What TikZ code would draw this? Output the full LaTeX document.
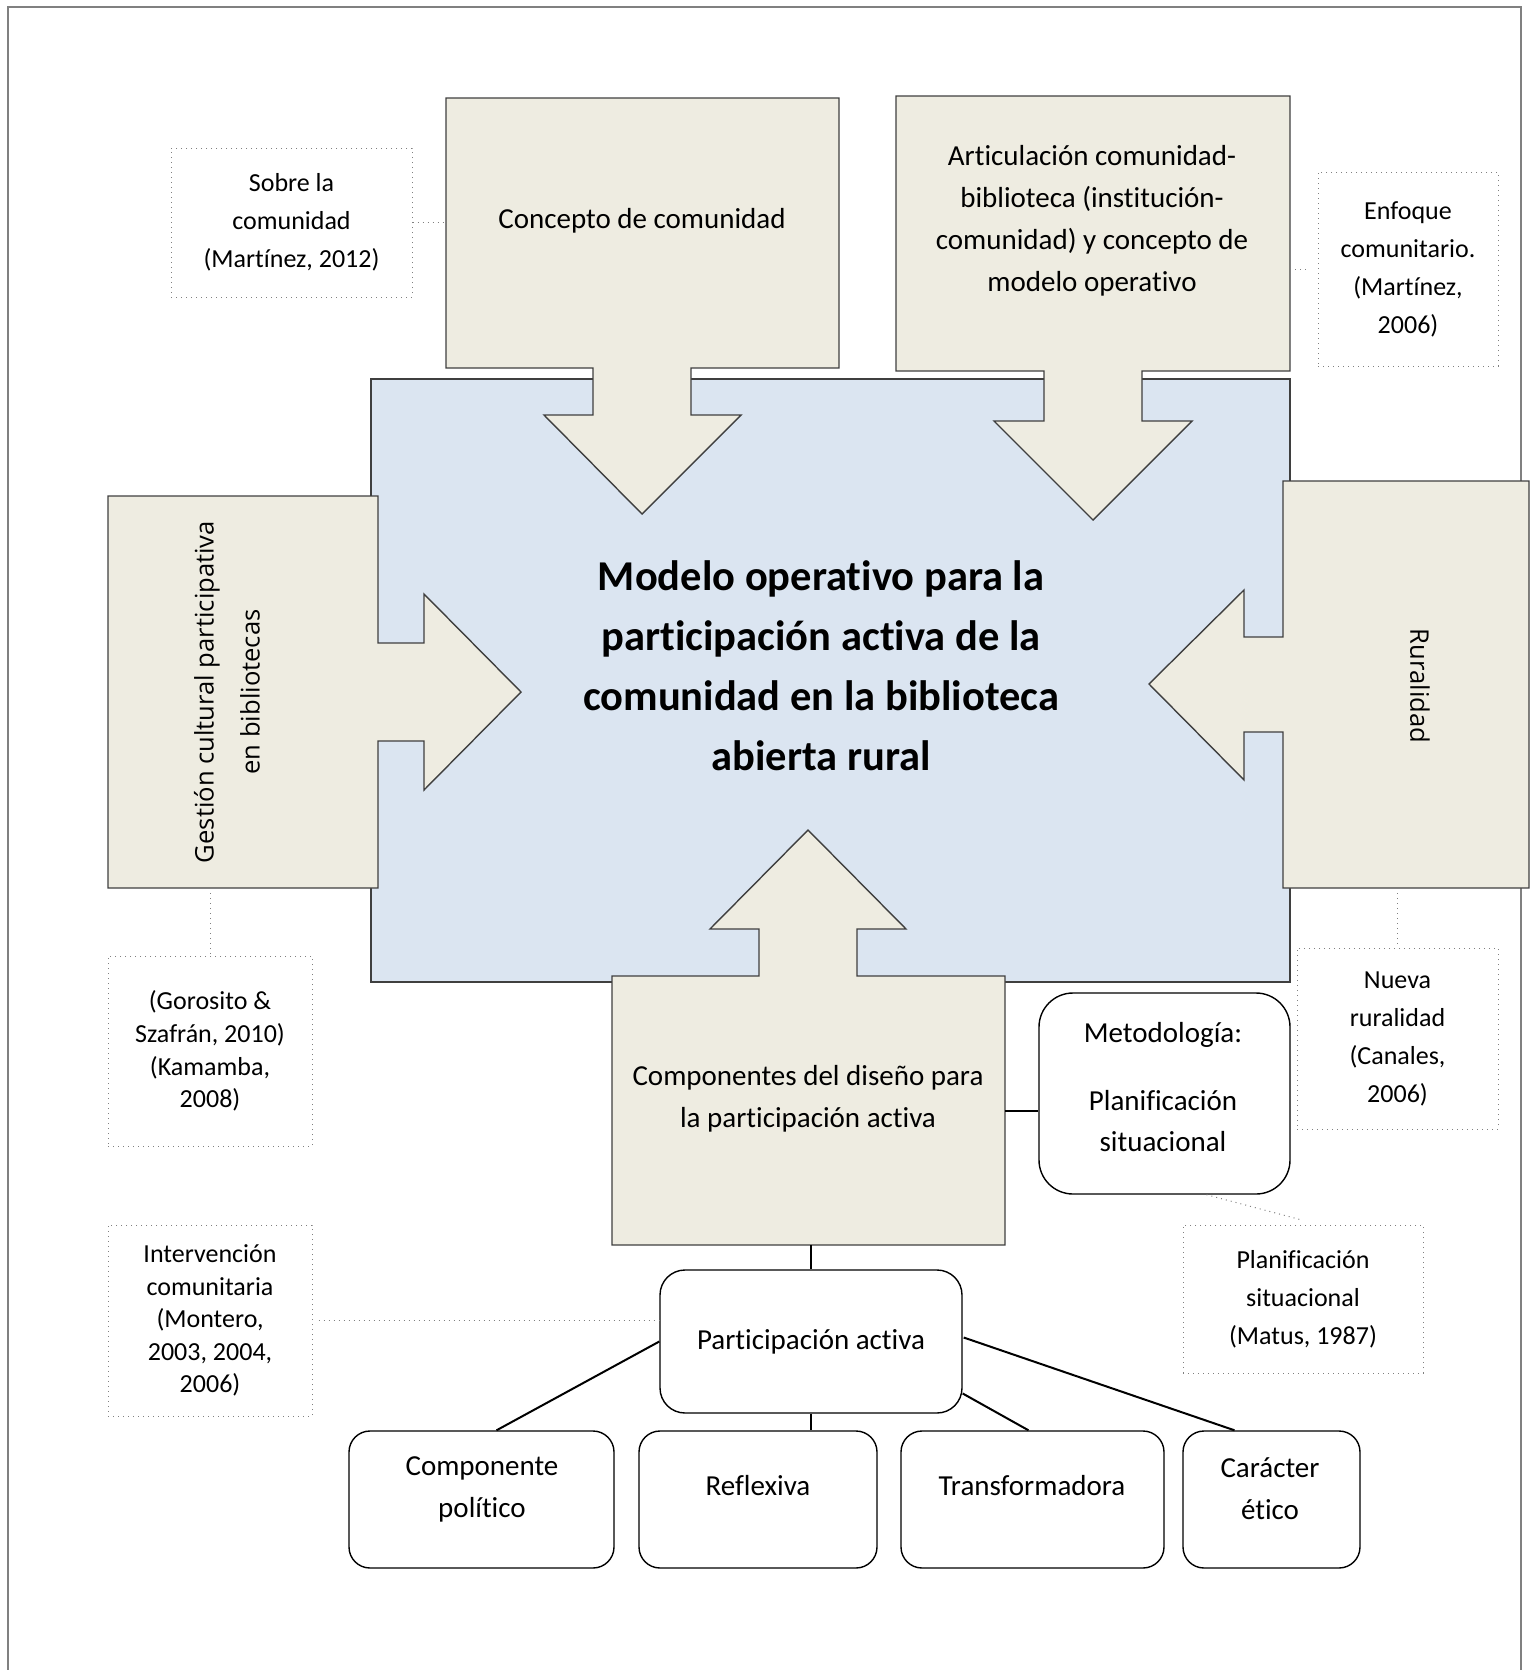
\documentclass[tikz,border=0pt]{standalone}
\usepackage{fontspec}
\setmainfont{Carlito}[RawFeature={-liga;-clig;-dlig;-calt}]
\newfontfamily\rotfont{Open Sans}
\usetikzlibrary{fit,calc}
\definecolor{beige}{HTML}{EEECE1}
\definecolor{paleblue}{HTML}{DBE5F1}
\definecolor{edge}{HTML}{3F3F3F}

\begin{document}
\begin{tikzpicture}[x=0.5pt,y=-0.5pt,
  frame/.style={draw=black!50, line width=0.9pt},
  core/.style={fill=paleblue, draw=edge, line width=0.7pt, inner sep=0pt},
  callout/.style={fill=beige, draw=edge, line width=0.7pt, line join=miter},
  area/.style={inner sep=0pt},
  size/.style 2 args={minimum width=#1pt, minimum height=#2pt},
  refbox/.style={draw=black!50, dotted, line width=0.5pt, fill=white, inner sep=0pt,
    align=center, font=\fontsize{13}{19}\selectfont},
  reftight/.style={refbox, font=\fontsize{13}{16.3}\selectfont},
  pill/.style={draw=black, line width=0.7pt, fill=white, rounded corners=10.5pt, inner sep=0pt},
  maintext/.style={align=center, font=\fontsize{14.5}{21}\selectfont},
  rottext/.style={align=center, font=\rotfont\fontsize{12.8}{23}\selectfont},
  title/.style={align=center, font=\bfseries\fontsize{21.25}{30}\selectfont},
  link/.style={draw=black, line width=1pt},
  reflink/.style={draw=black!50, dotted, line width=0.5pt},
]
\useasboundingbox (0,0) rectangle (1531,1670);

% outer frame (open at the bottom edge of the page)
\draw[frame] (8,1670) -- (8,7) -- (1521,7) -- (1521,1670);

% central block
\node[core, fit={(371,379) (1290,982)}] (modelo) {};

% callout: concepto de comunidad (points down)
\draw[callout] (446,98) -- (839,98) -- (839,368) -- (691,368) -- (691,415) -- (741,415)
  -- (642,514) -- (544,415) -- (593,415) -- (593,368) -- (446,368) -- cycle;
\node[area, fit={(446,98) (839,368)}] (concepto) {};
\node[maintext] (t-concepto) at (642,221) {Concepto de comunidad};

% callout: articulacion (points down)
\draw[callout] (896,96) -- (1290,96) -- (1290,371) -- (1142,371) -- (1142,421) -- (1192,421)
  -- (1093,520) -- (994,421) -- (1044,421) -- (1044,371) -- (896,371) -- cycle;
\node[area, fit={(896,96) (1290,371)}] (articula) {};
\node[maintext] (t-articula) at (1092,221)
  {Articulación comunidad-\\biblioteca (institución-\\comunidad) y concepto de\\modelo operativo};

% callout: gestion cultural (points right)
\draw[callout] (108,496) -- (378,496) -- (378,643) -- (424,643) -- (424,594) -- (521,692)
  -- (424,790) -- (424,741) -- (378,741) -- (378,888) -- (108,888) -- cycle;
\node[area, fit={(108,496) (378,888)}] (gestion) {};
\node[rottext, rotate=90] (t-gestion) at (227,692)
  {Gestión cultural participativa\\en bibliotecas};

% callout: ruralidad (points left)
\draw[callout] (1283,481) -- (1529,481) -- (1529,888) -- (1283,888) -- (1283,732) -- (1244,732)
  -- (1244,780) -- (1149,684) -- (1244,590) -- (1244,637) -- (1283,637) -- cycle;
\node[area, fit={(1283,481) (1529,888)}] (rural) {};
\node[rottext, rotate=-90] (t-rural) at (1420,686) {Ruralidad};

% callout: componentes del diseno (points up)
\draw[callout] (612,976) -- (759,976) -- (759,929) -- (710,929) -- (808,830) -- (906,929)
  -- (857,929) -- (857,976) -- (1005,976) -- (1005,1245) -- (612,1245) -- cycle;
\node[area, fit={(612,976) (1005,1245)}] (compo) {};
\node[maintext] (t-compo) at (808,1099)
  {Componentes del diseño para\\la participación activa};

% title of the central block
\node[title] (t-modelo) at (821,666)
  {Modelo operativo para la\\participación activa de la\\comunidad en la biblioteca\\abierta rural};

% reference boxes
\node[refbox, size={120.5}{74.5}] (sobre) at (291.5,222.5) {Sobre la\\comunidad\\(Martínez, 2012)};
\node[refbox, size={90}{97}] (enfoque) at (1408,269) {Enfoque\\comunitario.\\(Martínez,\\2006)};
\node[reftight, size={102}{95}] (gorosito) at (210,1051) {(Gorosito \&\\Szafrán, 2010)\\(Kamamba,\\2008)};
\node[reftight, size={102}{95.5}] (interv) at (210,1320.5) {Intervención\\comunitaria\\(Montero,\\2003, 2004,\\2006)};
\node[refbox, size={100.5}{90.5}] (nueva) at (1397.5,1038.5) {Nueva\\ruralidad\\(Canales,\\2006)};
\node[refbox, size={120}{74}] (matus) at (1303,1299) {Planificación\\situacional\\(Matus, 1987)};

% rounded boxes
\node[pill, rounded corners=17pt, fit={(1039,993) (1290,1194)}] (metodo) {};
\node[maintext, font=\fontsize{14.5}{20.5}\selectfont] (t-metodo) at (1163,1087)
  {Metodología:\\[13.5pt]Planificación\\situacional};
\node[pill, rounded corners=12.5pt, size={151}{71.5}, maintext] (partic) at (811,1341.5) {Participación activa};
\node[pill, fit={(349,1431) (614,1568)}] (polit) {};
\node[pill, fit={(639,1431) (877,1568)}] (reflex) {};
\node[pill, fit={(901,1431) (1164,1568)}] (transf) {};
\node[pill, fit={(1183,1431) (1360,1568)}] (carac) {};
\node[maintext] (t-polit) at (482,1489) {Componente\\político};
\node[maintext] (t-reflex) at (758,1486) {Reflexiva};
\node[maintext] (t-transf) at (1032,1486) {Transformadora};
\node[maintext] (t-carac) at (1270,1489) {Carácter\\ético};

% dotted reference links
\draw[reflink] (sobre.east) -- (sobre.east -| concepto.west);
\draw[reflink, shorten >=5pt] (enfoque.west -| articula.east) -- (enfoque.west);
\draw[reflink] (gestion.south -| gorosito.north) -- (gorosito.north);
\draw[reflink] (rural.south -| nueva.north) -- (nueva.north);
\draw[reflink, shorten <=3pt] (interv.east) -- (interv.east -| partic.west);
\draw[reflink] ($(metodo.south)+(42,0)$) -- ($(matus.north)+(-3,-5)$);

% solid links
\draw[link] (partic.north |- compo.south) -- (partic.north);
\draw[link] (compo.east) -- (compo.east -| metodo.west);
\draw[link] (partic.west) -- ($(polit.north)+(15,0)$);
\draw[link] (partic.south) -- (partic.south |- reflex.north);
\draw[link] ($(partic.east)+(0,52)$) -- ($(transf.north)+(-4,0)$);
\draw[link] ($(partic.east)+(1,-4)$) -- ($(carac.north)+(-37,0)$);
\end{tikzpicture}
\end{document}
